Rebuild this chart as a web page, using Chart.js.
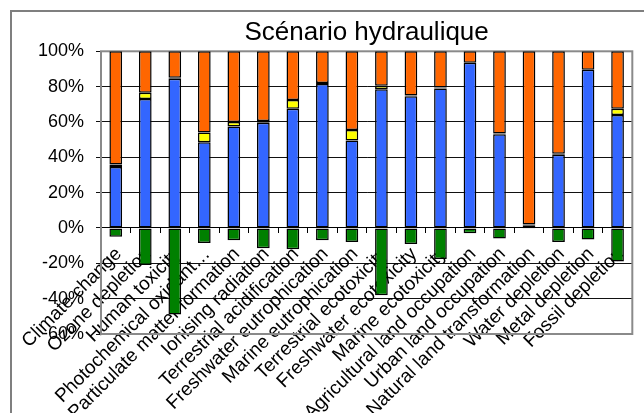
<!DOCTYPE html>
<html>
<head>
<meta charset="utf-8">
<script src="https://cdn.jsdelivr.net/npm/chart.js@4/dist/chart.umd.min.js"></script>
<style>
  html, body { margin: 0; padding: 0; background: #fff; overflow: hidden; }
  #frame { position: absolute; left: 10px; top: 10px; width: 1000px; height: 1000px; border: 2px solid #7f7f7f; }
  #wrap { position: absolute; left: 0; top: 0; width: 644px; height: 413px; }
</style>
</head>
<body>
<div id="frame"></div>
<div id="wrap"><canvas id="impactChart" width="644" height="413"></canvas></div>
<script>
// impact categories (x axis)
const categories = [
  'Climate change', 'Ozone depletion', 'Human toxicity', 'Photochemical oxidant…',
  'Particulate matter formation', 'Ionising radiation', 'Terrestrial acidification',
  'Freshwater eutrophication', 'Marine eutrophication', 'Terrestrial ecotoxicity',
  'Freshwater ecotoxicity', 'Marine ecotoxicity', 'Agricultural land occupation',
  'Urban land occupation', 'Natural land transformation', 'Water depletion',
  'Metal depletion', 'Fossil depletion'
];

// contributions in %
const greenValues  = [-5, -21, -49, -8.5, -7, -11.5, -12, -7, -8, -38, -9, -17.5, -3, -6, -0.5, -8, -6.5, -19];
const blueValues   = [34.5, 73, 84.5, 48.5, 57.5, 59.5, 67.5, 81.5, 49.5, 78.5, 74.5, 79, 93.5, 53, 1.5, 41.5, 89.5, 64];
const yellowValues = [1.5, 3.5, 0.5, 5.5, 2.5, 1, 5, 0.5, 6, 2, 0.5, 0.5, 0, 0.5, 0.5, 0.5, 0, 3.5];
const orangeValues = [64, 23.5, 15, 46, 40, 39.5, 27.5, 18, 44.5, 19.5, 25, 20.5, 6.5, 46.5, 98, 58, 10.5, 32.5];

const yTicks = { min: -60, max: 100, step: 20 };

const FONT = 'Liberation Sans, Arial, sans-serif';

// grey border round the plot area
const plotBorder = {
  id: 'plotBorder',
  beforeDatasetsDraw(chart) {
    const { ctx, chartArea: a } = chart;
    ctx.save();
    ctx.strokeStyle = '#8a8a8a';
    ctx.lineWidth = 2;
    ctx.strokeRect(a.left, a.top, a.right - a.left, a.bottom - a.top);
    ctx.restore();
  }
};

const makeSet = (label, data, color) => ({
  label: label,
  data: data,
  backgroundColor: color,
  borderColor: '#000',
  borderWidth: 1.5,
  borderSkipped: false,
  barPercentage: 0.43,
  categoryPercentage: 1
});

const ctx = document.getElementById('impactChart').getContext('2d');
const impactChart = new Chart(ctx, {
  type: 'bar',
  data: {
    labels: categories,
    datasets: [
      makeSet('Série 1', greenValues, '#008000'),
      makeSet('Série 2', blueValues, '#3366ff'),
      makeSet('Série 3', yellowValues, '#ffff00'),
      makeSet('Série 4', orangeValues, '#ff6600')
    ]
  },
  options: {
    responsive: false,
    animation: false,
    layout: { padding: { left: 0, right: 6, top: 0, bottom: 79 } },
    scales: {
      x: {
        stacked: true,
        position: { y: 0 },
        grid: {
          offset: true,
          drawOnChartArea: false,
          drawTicks: true,
          tickLength: 5,
          color: '#000'
        },
        border: { color: '#000', width: 1 },
        ticks: {
          autoSkip: false,
          maxRotation: 45,
          minRotation: 45,
          padding: 10,
          labelOffset: 3,
          color: '#000',
          font: { family: FONT, size: 19 }
        }
      },
      y: {
        stacked: true,
        min: yTicks.min,
        max: yTicks.max,
        afterFit: (scale) => { scale.width = 101; },
        grid: { color: '#111', lineWidth: 1, tickLength: 5 },
        border: { color: '#333', width: 1 },
        ticks: {
          stepSize: yTicks.step,
          padding: 12,
          color: '#000',
          font: { family: FONT, size: 18 },
          callback: (v) => v + '%'
        }
      }
    },
    plugins: {
      legend: { display: false },
      tooltip: { enabled: false },
      title: {
        display: true,
        fullSize: false,
        text: 'Scénario hydraulique',
        color: '#000',
        font: { family: FONT, size: 26, weight: 'normal' },
        padding: { top: 17.5, bottom: 2.6 }
      }
    }
  },
  plugins: [plotBorder]
});
</script>
</body>
</html>
